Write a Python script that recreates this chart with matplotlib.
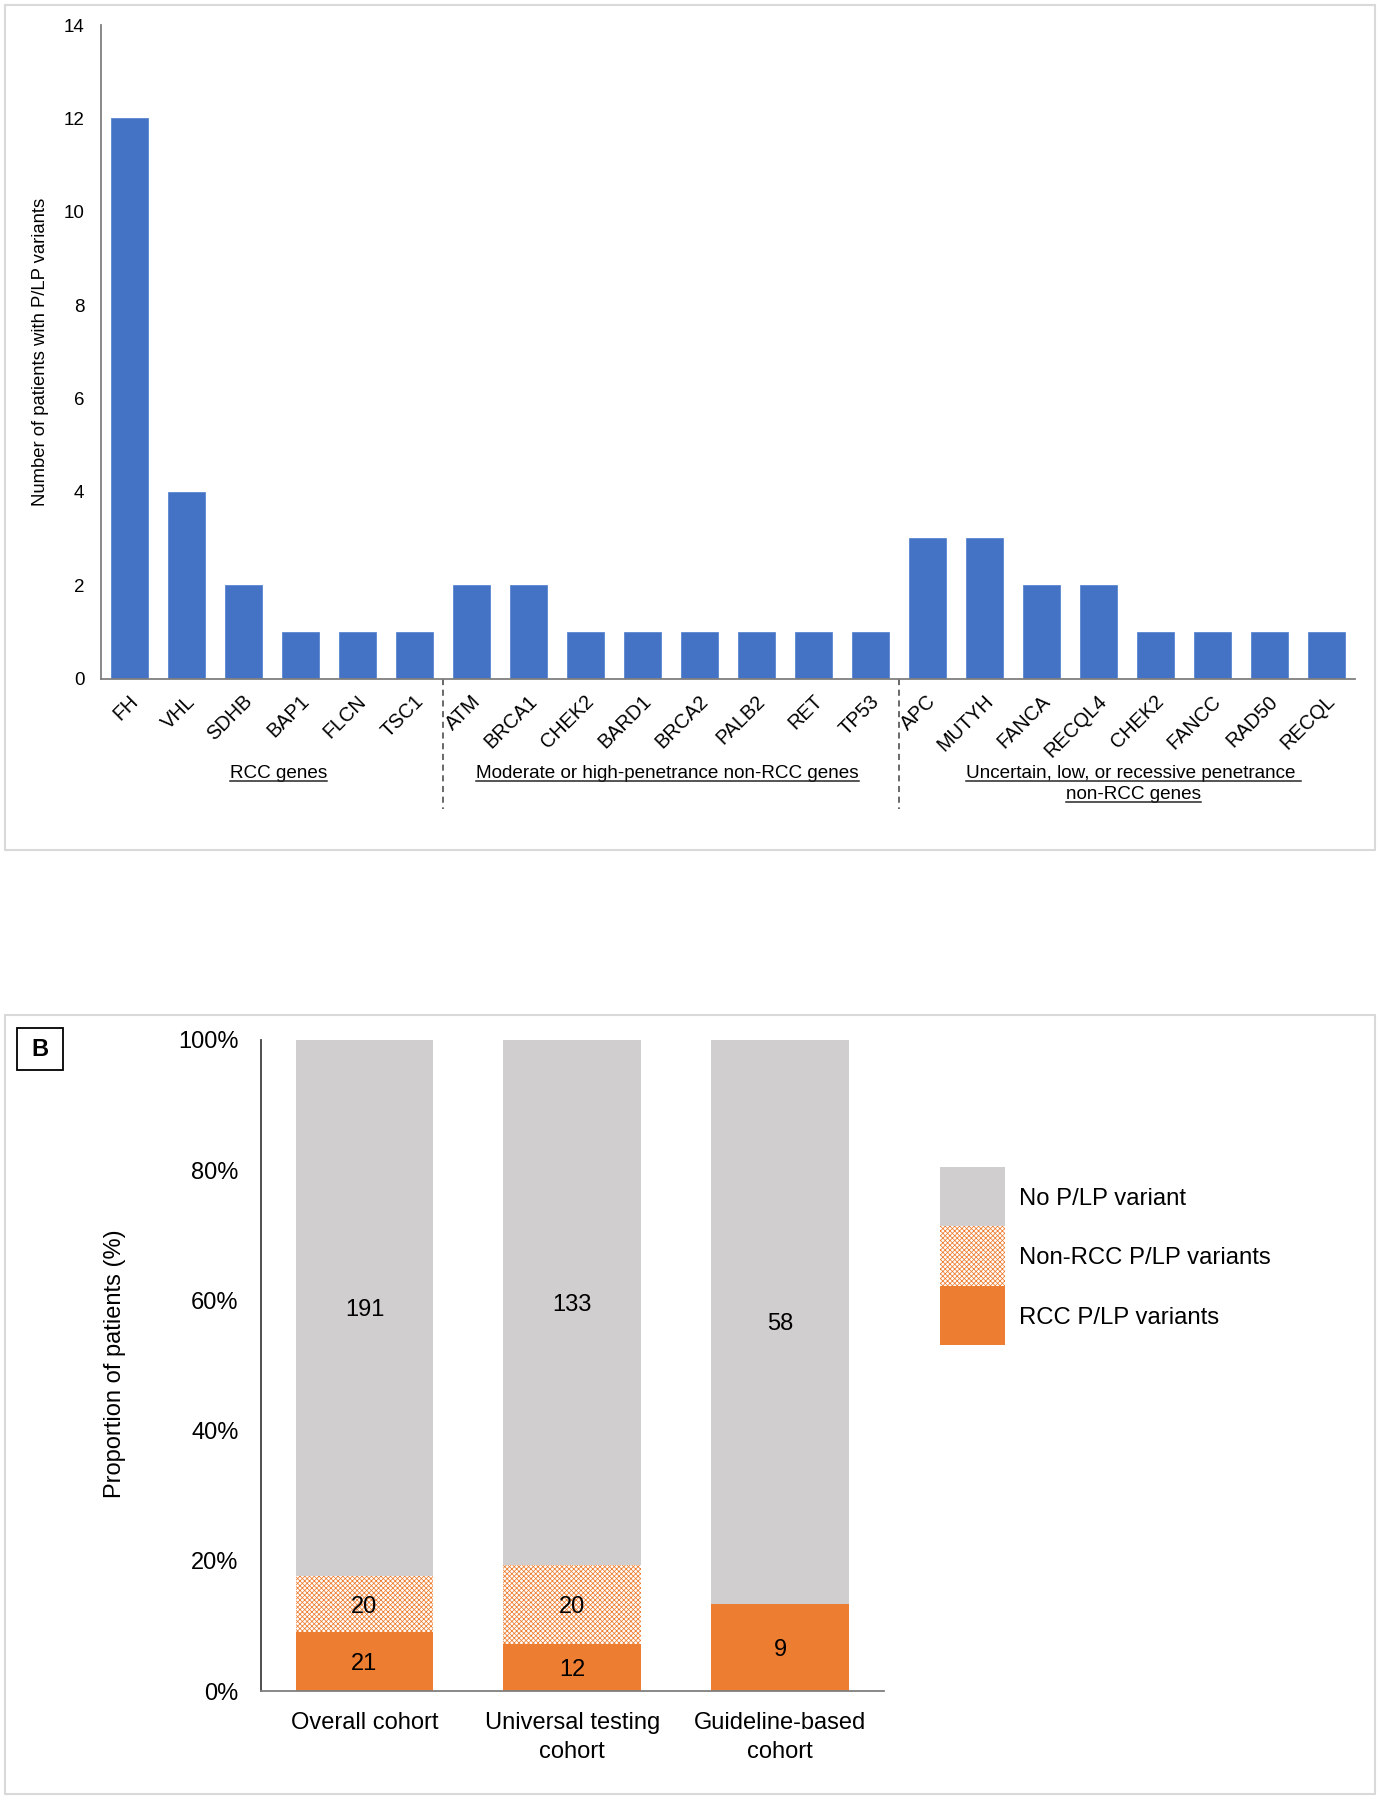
import matplotlib
matplotlib.use('Agg')
import matplotlib.pyplot as plt
from matplotlib.patches import Rectangle
from matplotlib.lines import Line2D
import matplotlib.transforms as mtransforms

plt.rcParams['font.family'] = ['Liberation Sans', 'DejaVu Sans']
plt.rcParams['hatch.linewidth'] = 0.55
plt.rcParams['hatch.color'] = '#ED7D31'

# ---------------- Data ----------------
genes = ['FH', 'VHL', 'SDHB', 'BAP1', 'FLCN', 'TSC1',
         'ATM', 'BRCA1', 'CHEK2', 'BARD1', 'BRCA2', 'PALB2', 'RET', 'TP53',
         'APC', 'MUTYH', 'FANCA', 'RECQL4', 'CHEK2', 'FANCC', 'RAD50', 'RECQL']
counts = [12, 4, 2, 1, 1, 1,
          2, 2, 1, 1, 1, 1, 1, 1,
          3, 3, 2, 2, 1, 1, 1, 1]
group_lines = [['RCC genes'],
               ['Moderate or high-penetrance non-RCC genes'],
               ['Uncertain, low, or recessive penetrance ', 'non-RCC genes']]
group_sizes = [6, 8, 8]
yticks_a = [0, 2, 4, 6, 8, 10, 12, 14]

cohorts = ['Overall cohort', 'Universal testing\ncohort', 'Guideline-based\ncohort']
rcc = [21, 12, 9]
non_rcc = [20, 20, 0]
no_var = [191, 133, 58]
series_labels = ['No P/LP variant', 'Non-RCC P/LP variants', 'RCC P/LP variants']
yticks_b = [0, 20, 40, 60, 80, 100]

W, H = 1381, 1800
BLUE = '#4472C4'
ORANGE = '#ED7D31'
GRAY = '#D0CECE'
FRAME = '#D9D9D9'
HATCH = 'xxxxxxx'
group_label_shift = [0.11, -0.06, 0.12]   # layout nudges (category units)

fig = plt.figure(figsize=(W / 100, H / 100), dpi=100)


def fx(px):
    return px / W


def fy(py):
    return 1 - py / H


# panel frames
fig.add_artist(Rectangle((fx(5), fy(850)), fx(1370), 845 / H, transform=fig.transFigure,
                         fill=False, edgecolor=FRAME, lw=1.5))
fig.add_artist(Rectangle((fx(5), fy(1794)), fx(1370), 779 / H, transform=fig.transFigure,
                         fill=False, edgecolor=FRAME, lw=1.5))

# ---------------- Panel A ----------------
axA = fig.add_axes([fx(101), fy(678.5), fx(1254), 653.5 / H])
x = list(range(len(genes)))
axA.bar(x, counts, width=0.665, color=BLUE, edgecolor='#5B86D0', linewidth=0.6)
axA.set_xlim(-0.5, len(genes) - 0.5)
axA.set_ylim(0, 14)
axA.set_yticks(yticks_a)
axA.set_yticklabels([str(v) for v in yticks_a], fontsize=13.5)
axA.tick_params(axis='y', length=0, pad=12)
axA.set_xticks(x)
axA.set_xticklabels(genes, rotation=45, ha='right', va='top', rotation_mode='anchor',
                    fontsize=14.3)
axA.tick_params(axis='x', length=0, pad=9.5)
for lab in axA.get_xticklabels():
    lab.set_transform(lab.get_transform() + mtransforms.ScaledTranslation(-1 / 100, 0, fig.dpi_scale_trans))
for s in ['top', 'right']:
    axA.spines[s].set_visible(False)
axA.spines['left'].set_color('#7F7F7F')
axA.spines['bottom'].set_color('#7F7F7F')
axA.spines['left'].set_linewidth(1.3)
axA.spines['bottom'].set_linewidth(1.3)
axA.set_ylabel('Number of patients with P/LP variants', fontsize=13.3)
axA.yaxis.set_label_coords(-(101 - 49) / 1254, 0.5 + (678.5 - 351.5 - 326.75) / 653.5)

# dashed separators and group labels
blend = mtransforms.blended_transform_factory(axA.transData, axA.transAxes)
start = 0
group_texts = []
for gi, (lines, size) in enumerate(zip(group_lines, group_sizes)):
    center = start + (size - 1) / 2 + group_label_shift[gi]
    if gi > 0:
        axA.add_line(Line2D([start - 0.5, start - 0.5], [0, -(809 - 678.5) / 653.5],
                            transform=blend, clip_on=False, color='#404040',
                            linestyle=(0, (4, 3)), lw=1.1))
    for li, line in enumerate(lines):
        ypix = 773 + li * 21.8
        t = axA.text(center, -(ypix - 678.5) / 653.5, line, transform=blend,
                     ha='center', va='center', fontsize=13.6)
        group_texts.append(t)
    start += size

# ---------------- Panel B ----------------
axB = fig.add_axes([fx(260.6), fy(1691), fx(623.4), 651 / H])
xb = list(range(len(cohorts)))
totals = [a + b + c for a, b, c in zip(rcc, non_rcc, no_var)]
p_rcc = [100 * a / t for a, t in zip(rcc, totals)]
p_non = [100 * b / t for b, t in zip(non_rcc, totals)]
p_no = [100 * c / t for c, t in zip(no_var, totals)]
bw = 0.663
axB.bar(xb, p_rcc, width=bw, color=ORANGE, linewidth=0)
axB.bar(xb, p_non, width=bw, bottom=p_rcc, color='white', edgecolor=ORANGE,
        hatch=HATCH, linewidth=0)
bottom2 = [a + b for a, b in zip(p_rcc, p_non)]
axB.bar(xb, p_no, width=bw, bottom=bottom2, color=GRAY, linewidth=0)

for i in xb:
    segs = [(rcc[i], 0, p_rcc[i]), (non_rcc[i], p_rcc[i], p_non[i]), (no_var[i], bottom2[i], p_no[i])]
    for val, b0, h in segs:
        if val > 0:
            axB.text(i, b0 + h / 2, str(val), ha='center', va='center_baseline', fontsize=17,
                     color='#000000')

axB.set_xlim(-0.5, 2.5)
axB.set_ylim(0, 100)
axB.set_yticks(yticks_b)
axB.set_yticklabels([f'{v}%' for v in yticks_b], fontsize=17)
axB.tick_params(axis='y', length=0, pad=16)
axB.set_xticks(xb)
axB.set_xticklabels(cohorts, fontsize=17, linespacing=1.4)
axB.tick_params(axis='x', length=0, pad=15)
for s in ['top', 'right']:
    axB.spines[s].set_visible(False)
axB.spines['left'].set_color('#404040')
axB.spines['bottom'].set_color('#7F7F7F')
axB.spines['left'].set_linewidth(1.3)
axB.spines['bottom'].set_linewidth(1.3)
axB.set_ylabel('Proportion of patients (%)', fontsize=17)
axB.yaxis.set_label_coords(-(260.6 - 126) / 623.4, 0.5 + (1691 - 1364 - 325.5) / 651)

# B label
fig.add_artist(Rectangle((fx(17), fy(1070)), fx(46), 42 / H, transform=fig.transFigure,
                         fill=False, edgecolor='black', lw=1.3))
fig.text(fx(40), fy(1049), 'B', ha='center', va='center', fontsize=17, fontweight='bold')

# legend (manual)
leg_colors = [dict(facecolor=GRAY, hatch=None), dict(facecolor='white', hatch=HATCH),
              dict(facecolor=ORANGE, hatch=None)]
y0 = 1167
hgt = 59.3
for k, (lab, st) in enumerate(zip(series_labels, leg_colors)):
    top = y0 + k * hgt
    r = Rectangle((fx(940), fy(top + hgt)), fx(65), hgt / H, transform=fig.transFigure,
                  facecolor=st['facecolor'], edgecolor=ORANGE if st['hatch'] else 'none',
                  hatch=st['hatch'], lw=0)
    fig.add_artist(r)
    fig.text(fx(1019), fy(top + hgt / 2), lab, ha='left', va='center_baseline', fontsize=17.2)

# underline group labels
fig.canvas.draw()
renderer = fig.canvas.get_renderer()
inv = fig.transFigure.inverted()
for t in group_texts:
    bb = t.get_window_extent(renderer)
    (x0, yb), (x1, _) = inv.transform([[bb.x0, bb.y0 + 1], [bb.x1, bb.y0 + 1]])
    fig.add_artist(Line2D([x0, x1], [yb, yb], transform=fig.transFigure, color='#262626', lw=1.1))

fig.savefig('out.png', dpi=100)
